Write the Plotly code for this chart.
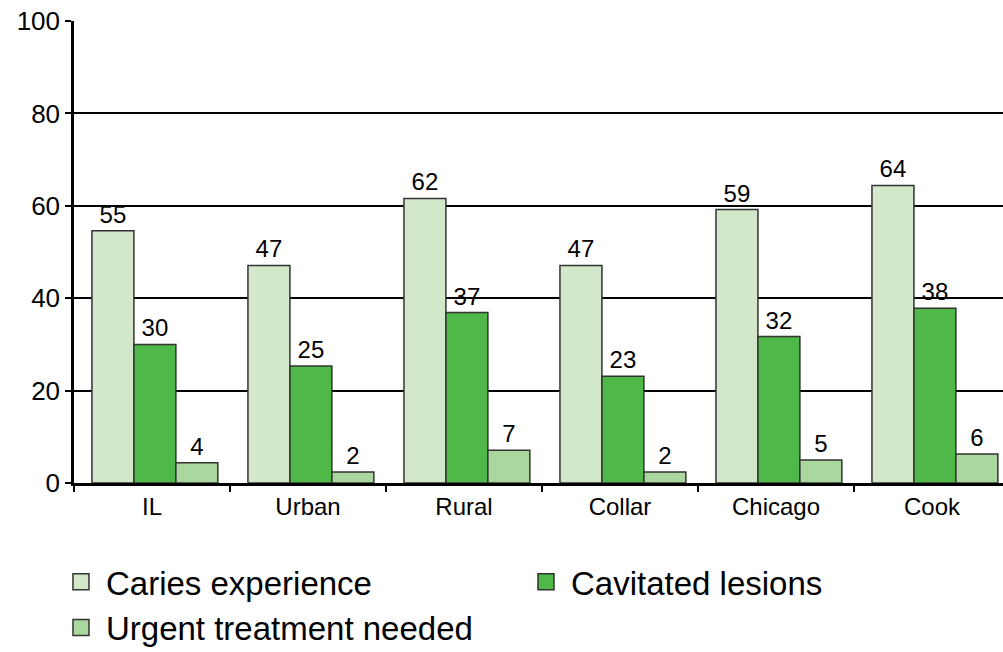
import plotly.graph_objects as go

categories = ["IL", "Urban", "Rural", "Collar", "Chicago", "Cook"]
caries = [54.6, 47.1, 61.6, 47.1, 59.2, 64.4]
cavitated = [30.0, 25.3, 36.9, 23.1, 31.7, 37.8]
urgent = [4.4, 2.4, 7.1, 2.4, 5.0, 6.3]
series_names = ["Caries experience", "Cavitated lesions", "Urgent treatment needed"]
colors = ["#d3e7cb", "#4fb848", "#a9d79d"]

FONT = "Liberation Sans, Arial, sans-serif"
BAR_W = 0.269
OFFSETS = [-0.385, -0.116, 0.153]

fig = go.Figure()
for name, vals, col, off in zip(series_names, [caries, cavitated, urgent], colors, OFFSETS):
    fig.add_trace(go.Bar(
        x=categories, y=vals, name=name, showlegend=False,
        width=BAR_W, offset=off,
        marker=dict(color=col, line=dict(color="#333333", width=1.5)),
        text=[f"{v:.0f}" for v in vals], textposition="outside",
        textfont=dict(size=24, color="black", family=FONT),
        cliponaxis=False,
    ))
# legend swatches
for name, col in zip(series_names, colors):
    fig.add_trace(go.Scatter(
        x=[None], y=[None], mode="markers", name=name,
        marker=dict(symbol="square", size=22, color=col, line=dict(color="#333333", width=1.5)),
        showlegend=True,
    ))

fig.update_layout(
    width=1003, height=652,
    margin=dict(l=74, r=0, t=21, b=169, autoexpand=False),
    paper_bgcolor="white", plot_bgcolor="white",
    barmode="overlay",
    font=dict(family=FONT, color="black"),
    showlegend=True,
    legend=dict(orientation="h", x=-0.0194, xanchor="left", y=-0.153, yanchor="top",
                font=dict(size=33, family=FONT), entrywidth=410, tracegroupgap=0,
                itemsizing="trace", itemwidth=40),
)
fig.update_yaxes(range=[0, 100], dtick=20, showgrid=True, gridcolor="black", gridwidth=1.5,
                 showline=True, linecolor="black", linewidth=2.5, ticks="outside",
                 ticklen=6, tickcolor="black", tickwidth=2, tickfont=dict(size=26), zeroline=False)
fig.update_xaxes(range=[-0.5, 5.455], showline=True, linecolor="black", linewidth=2.5,
                 ticks="outside", tickson="boundaries", ticklen=6, tickcolor="black",
                 tickwidth=1.5, tickfont=dict(size=24), showgrid=False)

fig.write_html("out.html", config={"displayModeBar": False},
               post_script="document.body.style.margin='0';document.body.style.overflow='hidden';")
